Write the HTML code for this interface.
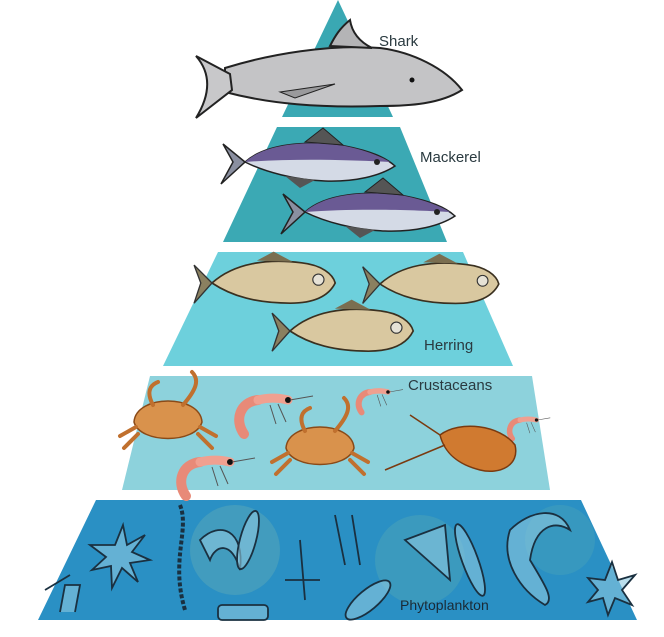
<!DOCTYPE html>
<html><head><meta charset="utf-8"><style>
html,body{margin:0;padding:0;background:#fff;}
svg{display:block;}
text{font-family:"Liberation Sans",sans-serif;fill:#2a3a40;}
</style></head><body>
<svg width="664" height="637" viewBox="0 0 664 637" xmlns="http://www.w3.org/2000/svg">
<defs>
<g id="fishM">
 <path d="M0,0 C20,-18 60,-22 100,-16 C125,-11 140,-5 150,4 C135,14 110,20 80,19 C50,18 20,10 0,0 Z" fill="#d4dae6" stroke="#222" stroke-width="1.5"/>
 <path d="M0,0 C20,-18 60,-22 100,-16 C120,-12 135,-6 145,0 C110,-2 50,-4 0,0Z" fill="#6a5a94"/>
 <path d="M0,0 L-22,-18 L-12,0 L-24,22 Z" fill="#8a8fa0" stroke="#222" stroke-width="1.5"/>
 <path d="M60,-20 L78,-34 L98,-17 Z" fill="#555" stroke="#222"/>
 <path d="M40,14 L55,26 L70,18 Z" fill="#555"/>
 <circle cx="132" cy="0" r="3" fill="#222"/>
</g>
<g id="fishH">
 <path d="M0,0 C20,-18 50,-22 80,-18 C98,-16 108,-8 110,0 C104,12 90,18 70,18 C40,18 18,12 0,0 Z" fill="#d9c8a0" stroke="#3a3020" stroke-width="1.5"/>
 <path d="M0,0 L-16,-16 L-10,0 L-16,18 Z" fill="#8a8060" stroke="#333" stroke-width="1.2"/>
 <path d="M40,-20 L55,-28 L72,-19 Z" fill="#7a6e50"/>
 <circle cx="95" cy="-3" r="5" fill="#e6e2d6" stroke="#333"/>
</g>
<g id="crab">
 <path d="M-34,0 C-32,-28 32,-28 34,0 C28,22 -28,22 -34,0Z" fill="#d9924c" stroke="#8a4a18" stroke-width="1.5"/>
 <g stroke="#c0702e" stroke-width="4" fill="none" stroke-linecap="round">
  <path d="M-32,5 L-48,14"/><path d="M-30,12 L-44,26"/><path d="M32,5 L48,14"/><path d="M30,12 L44,26"/>
  <path d="M15,-17 C28,-32 32,-42 24,-50"/><path d="M-15,-17 C-22,-30 -18,-37 -10,-40"/>
 </g>
</g>
<g id="shrimp">
 <path d="M0,0 C-18,2 -24,20 -14,34" stroke="#e88a78" stroke-width="10" fill="none" stroke-linecap="round"/>
 <path d="M0,0 C12,-3 22,-2 30,0" stroke="#f0a090" stroke-width="9" fill="none" stroke-linecap="round"/>
 <circle cx="30" cy="0" r="3" fill="#111"/>
 <path d="M32,0 L55,-4 M20,4 L28,22 M12,5 L18,24" stroke="#555" stroke-width="1" fill="none"/>
</g>
</defs>

<polygon points="338,0 393,117 282,117" fill="#3aa8b3"/>
<polygon points="277,127 400,127 447,242 223,242" fill="#3ba9b4"/>
<polygon points="218,252 463,252 513,366 163,366" fill="#6dd0dc"/>
<polygon points="150,376 532,376 550,490 122,490" fill="#8dd2dc"/>
<polygon points="96,500 581,500 637,620 38,620" fill="#2a90c4"/>
<circle cx="235" cy="550" r="45" fill="#5aa8b8" opacity="0.5"/>
<circle cx="420" cy="560" r="45" fill="#4ba4b8" opacity="0.5"/>
<circle cx="560" cy="540" r="35" fill="#4ba4b8" opacity="0.4"/>

<!-- shark -->
<path d="M225,68 C270,54 330,44 380,48 C412,52 445,68 462,90 C440,104 410,106 380,106 C320,108 270,104 225,92 Z" fill="#c4c4c6" stroke="#222" stroke-width="2"/>
<path d="M330,46 C335,36 340,28 350,20 C352,33 360,42 372,48 Z" fill="#b4b4b6" stroke="#222" stroke-width="2"/>
<path d="M230,74 L196,56 C210,72 212,92 196,118 L232,90 Z" fill="#c8c8ca" stroke="#222" stroke-width="2"/>
<path d="M280,92 L335,84 L295,98 Z" fill="#9a9a9c" stroke="#222"/>
<circle cx="412" cy="80" r="2.5" fill="#111"/>
<text x="379" y="46" font-size="15">Shark</text>

<use href="#fishM" transform="translate(245,162)"/>
<use href="#fishM" transform="translate(305,212)"/>
<text x="420" y="162" font-size="15">Mackerel</text>

<use href="#fishH" transform="translate(212,283) scale(1.12)"/>
<use href="#fishH" transform="translate(380,284) scale(1.08)"/>
<use href="#fishH" transform="translate(290,331) scale(1.12)"/>
<text x="424" y="350" font-size="15">Herring</text>

<use href="#crab" transform="translate(168,422)"/>
<use href="#crab" transform="translate(320,448)"/>
<use href="#shrimp" transform="translate(258,400)"/>
<use href="#shrimp" transform="translate(200,462)"/>
<use href="#shrimp" transform="translate(370,392) scale(0.6)"/>
<use href="#shrimp" transform="translate(520,420) scale(0.55)"/>
<path d="M440,435 C460,420 500,425 515,445 C520,465 500,475 480,470 C460,465 445,455 440,435Z" fill="#d07a30" stroke="#7a3a10" stroke-width="1.5"/>
<path d="M440,435 L410,415 M445,445 L385,470" stroke="#7a3a10" stroke-width="1.5" fill="none"/>
<text x="408" y="390" font-size="15">Crustaceans</text>

<g stroke="#1a3040" stroke-width="1.8" fill="#8cc8e0" fill-opacity="0.6">
 <polygon points="115,545 123,525 127,545 145,535 132,552 150,560 130,563 138,582 122,568 112,588 111,566 92,570 106,557 90,545"/>
 <path d="M180,505 C190,530 170,560 185,610" fill="none" stroke-dasharray="4 2" stroke-width="4"/>
 <path d="M200,540 C220,520 245,530 240,570 C232,540 215,545 210,560 Z"/>
 <ellipse cx="248" cy="540" rx="8" ry="30" transform="rotate(15 248 540)"/>
 <rect x="218" y="605" width="50" height="15" rx="4"/>
 <path d="M335,515 L345,565 M352,515 L360,565 M300,540 L305,600 M285,580 L320,580"/>
 <path d="M405,540 L445,525 L450,580 Z"/>
 <ellipse cx="470" cy="560" rx="8" ry="38" transform="rotate(-20 470 560)"/>
 <ellipse cx="368" cy="600" rx="10" ry="28" transform="rotate(50 368 600)"/>
 <path d="M510,530 C530,510 560,505 570,530 C555,520 535,525 530,560 C545,585 555,600 545,605 C520,590 500,560 510,530Z"/>
 <polygon points="605,580 612,562 618,580 635,575 622,590 632,605 615,598 608,615 603,598 588,602 598,590 588,578"/>
 <path d="M60,612 L65,585 L80,585 L75,612 M45,590 L70,575"/>
</g>
<text x="400" y="610" font-size="14" style="fill:#1a2a35">Phytoplankton</text>
</svg>
</body></html>
